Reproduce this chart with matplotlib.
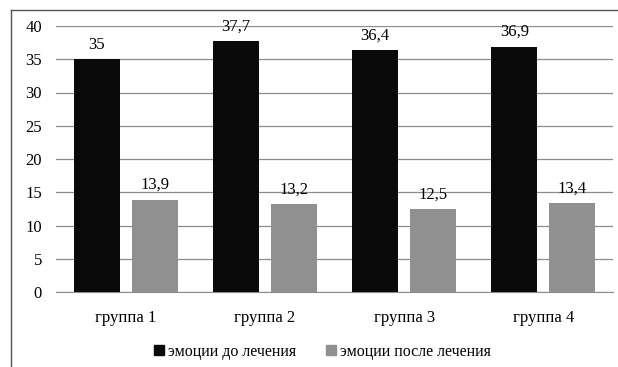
import matplotlib.pyplot as plt
import numpy as np
from matplotlib.lines import Line2D

groups = ['группа 1', 'группа 2', 'группа 3', 'группа 4']
before = [35, 37.7, 36.4, 36.9]
after = [13.9, 13.2, 12.5, 13.4]
series_names = ['эмоции до лечения', 'эмоции после лечения']

plt.rcParams['font.family'] = ['Liberation Serif', 'DejaVu Serif']

fig = plt.figure(figsize=(6.18, 3.67), dpi=100)
ax = fig.add_axes([56 / 618, 1 - 292 / 367, 557 / 618, 266 / 367])

x = np.arange(len(groups))
w = 0.33
off = 0.208
b1 = ax.bar(x - off, before, w, color='#0a0a0a', zorder=3)
b2 = ax.bar(x + off, after, w, color='#909090', zorder=3)

for bars, vals in ((b1, before), (b2, after)):
    for r, v in zip(bars, vals):
        ax.text(r.get_x() + r.get_width() / 2, v + 1.0, ('%g' % v).replace('.', ','),
                ha='center', va='bottom', fontsize=12)

ax.set_xlim(-0.5, 3.5)
ax.set_ylim(0, 40)
ax.set_yticks(range(0, 41, 5))
ax.yaxis.grid(True, color='#8c8c8c', linewidth=0.9, zorder=0)
ax.set_xticks(x)
ax.set_xticklabels(groups, fontsize=12)
ax.tick_params(length=0, labelsize=12)
ax.tick_params(axis='y', pad=10)
ax.tick_params(axis='x', pad=13)
for s in ['top', 'right', 'left']:
    ax.spines[s].set_visible(False)
ax.spines['bottom'].set_color('#8c8c8c')

# frame of the chart area, cut off on the right and bottom
fig.add_artist(Line2D([11 / 618, 11 / 618], [0, 1 - 10 / 367], color='#555555', lw=1.0))
fig.add_artist(Line2D([11 / 618, 1], [1 - 10 / 367, 1 - 10 / 367], color='#555555', lw=1.0))

handles = [plt.Rectangle((0, 0), 1, 1, color='#0a0a0a'),
           plt.Rectangle((0, 0), 1, 1, color='#909090')]
fig.legend(handles, series_names, loc='center', bbox_to_anchor=(0.522, 1 - 352 / 367),
           ncol=2, frameon=False, fontsize=11.5, handlelength=0.6, handleheight=0.6,
           handletextpad=0.25, columnspacing=1.9)

fig.savefig('out.png', dpi=100)
